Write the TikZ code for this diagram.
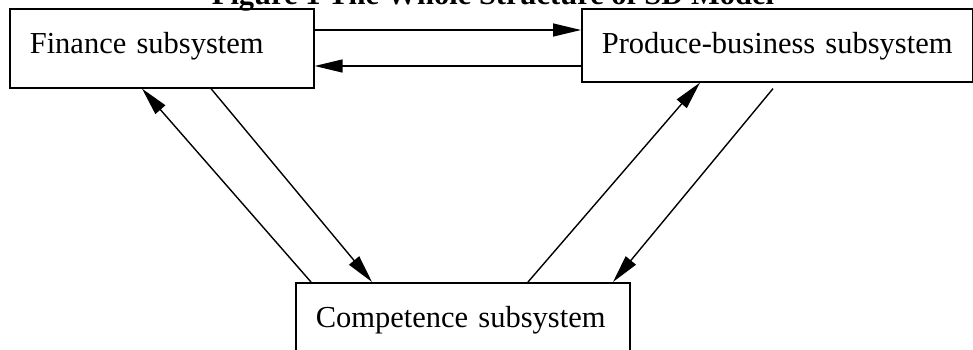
\documentclass[tikz,border=0pt]{standalone}
\usepackage{fontspec}
\setmainfont{Liberation Serif}
\usetikzlibrary{arrows.meta}
\begin{document}
\begin{tikzpicture}[x=1pt,y=-1pt,
  subsys/.style={draw, line width=1.6pt, anchor=north west, align=left,
    inner xsep=20pt, inner ysep=0pt, text height=21pt,
    font=\fontsize{30.5}{36}\selectfont},
  flow/.style={line width=1.4pt, -{Triangle[length=28pt,width=13pt]}},
  caption/.style={anchor=base, font=\fontsize{30.5}{36}\selectfont\bfseries}]
  \clip (0,0) rectangle (973,349);
  \useasboundingbox (0,0) rectangle (973,349);

  % title line, mostly above the page edge
  \node[caption] (title) at (493,4) {Figure 1 The Whole Structure of SD Model};

  % the three subsystems
  \node[subsys, minimum width=304pt, minimum height=79pt, text width=264pt, text depth=10pt] (fin) at (9,8) {Finance subsystem};
  \node[subsys, minimum width=391pt, minimum height=73pt, text width=351pt, text depth=5pt] (prod) at (581,8) {Produce-business subsystem};
  \node[subsys, minimum width=334pt, minimum height=78pt, text width=294pt, text depth=9pt] (comp) at (295,282) {Competence subsystem};

  % finance <-> produce-business
  \draw[flow] ([yshift=-22pt]fin.north east) -- ([yshift=-22pt]prod.north west);
  \draw[flow] ([yshift=-58pt]prod.north west) -- ([yshift=-58pt]fin.north east);

  % finance <-> competence
  \draw[flow] ([xshift=16pt]comp.north west) -- ([xshift=133pt]fin.south west);
  \draw[flow] ([xshift=202pt]fin.south west) -- ([xshift=77pt]comp.north west);

  % produce-business <-> competence
  \draw[flow] ([xshift=233pt]comp.north west) -- ([xshift=119pt]prod.south west);
  \draw[flow] ([xshift=192pt,yshift=-6pt]prod.south west) -- ([xshift=318pt]comp.north west);
\end{tikzpicture}
\end{document}
